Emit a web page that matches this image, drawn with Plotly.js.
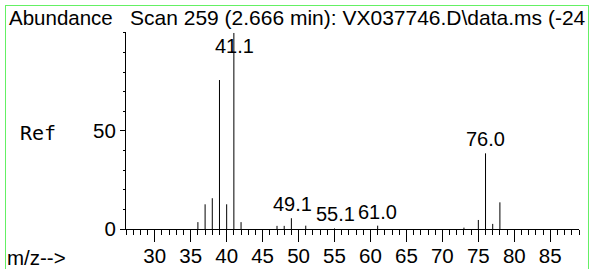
<!DOCTYPE html>
<html>
<head>
<meta charset="utf-8">
<script src="https://cdn.plot.ly/plotly-3.0.1.min.js"></script>
<style>
  html, body { margin: 0; padding: 0; background: #fff; }
  #wrap { position: relative; width: 592px; height: 269px; overflow: hidden; }
  #chart { position: absolute; left: 0; top: 0; width: 592px; height: 269px; }
  #frame { position: absolute; left: 5px; top: 5px; width: 582px; height: 280px;
           border: 1px solid rgb(100, 240, 100); pointer-events: none; }
  #clip { position: absolute; left: 588px; top: 0; width: 4px; height: 269px; background: #fff; }
</style>
</head>
<body>
<div id="wrap">
  <div id="chart"></div>
  <div id="clip"></div>
  <div id="frame"></div>
</div>
<script>
// Mass spectrum peaks (m/z) and relative abundance
const mz = [36, 37, 38, 39, 40, 41, 42, 47, 48, 49, 51, 55, 61, 73, 75, 76, 77, 78];
const abundance = [3.5, 12.6, 15.7, 76, 12.6, 100, 3.5, 1.6, 1.6, 5.5, 1.7, 0.3, 1.7, 0.7, 4.6, 38.6, 2.6, 13.6];

// Labelled peaks
const labelMz = [41.1, 49.1, 55.1, 61.0, 76.0];
const labelPeak = [41, 49, 55, 61, 76];
const labelText = ["41.1", "49.1", "55.1", "61.0", "76.0"];

const xTickVals = [30, 35, 40, 45, 50, 55, 60, 65, 70, 75, 80, 85];
const yTickVals = [0, 50];
const yTickText = ["0", "50"];

const titleText = "Scan 259 (2.666 min): VX037746.D\\data.ms (-24";
const yLabel = "Abundance";
const refText = "Ref";
const xLabel = "m/z-->";

const FONT = "Liberation Sans, Arial, sans-serif";

const px = [], py = [];
mz.forEach((m, i) => { px.push(m, m, null); py.push(0, abundance[i], null); });

const data = [{
  type: "scatter", mode: "lines", x: px, y: py,
  line: { color: "#000", width: 1 }, hoverinfo: "skip", showlegend: false
}];

const annotations = labelMz.map((lm, i) => {
  const h = abundance[mz.indexOf(labelPeak[i])];
  const top = h > 90;
  return {
    x: lm, y: top ? 100 : h, xref: "x", yref: "y",
    text: labelText[i], showarrow: false,
    xanchor: "center", yanchor: top ? "top" : "bottom",
    yshift: top ? 0 : 1,
    font: { family: FONT, size: 20, color: "#000" }
  };
});

annotations.push(
  { text: yLabel, xref: "paper", yref: "paper", x: -0.2627, y: 1.076, xanchor: "left", yanchor: "middle",
    showarrow: false, font: { family: FONT, size: 20.5, color: "#000" } },
  { text: titleText, xref: "paper", yref: "paper", x: 0.005, y: 1.076, xanchor: "left", yanchor: "middle",
    showarrow: false, font: { family: FONT, size: 21, color: "#000" } },
  { text: refText, xref: "paper", yref: "paper", x: -0.2392, y: 0.487, xanchor: "left", yanchor: "middle",
    showarrow: false, font: { family: "DejaVu Sans Mono, monospace", size: 20, color: "#000" } },
  { text: xLabel, xref: "paper", yref: "paper", x: -0.267, y: -0.147, xanchor: "left", yanchor: "middle",
    showarrow: false, font: { family: FONT, size: 20.5, color: "#000" } }
);

const layout = {
  width: 592, height: 269,
  margin: { l: 126, r: 13, t: 32, b: 40, pad: 0 },
  paper_bgcolor: "#fff", plot_bgcolor: "#fff",
  showlegend: false,
  font: { family: FONT, size: 20, color: "#000" },
  xaxis: {
    range: [26, 89], showgrid: false, zeroline: false,
    showline: true, linecolor: "#000", linewidth: 1,
    ticks: "outside", tickmode: "array", tickvals: xTickVals,
    ticklen: 12, tickwidth: 1, tickcolor: "#000",
    ticklabelstandoff: -4,
    tickfont: { family: FONT, size: 20.5, color: "#000" },
    minor: { ticks: "outside", tickmode: "linear", tick0: 0, dtick: 1, ticklen: 5, tickwidth: 1, tickcolor: "#000", showgrid: false },
    fixedrange: true
  },
  yaxis: {
    range: [0, 100.5], showgrid: false, zeroline: false,
    showline: true, linecolor: "#000", linewidth: 1,
    ticks: "outside", tickmode: "array", tickvals: yTickVals, ticktext: yTickText,
    ticklen: 5, tickwidth: 1, tickcolor: "#000",
    tickfont: { family: FONT, size: 20.5, color: "#000" },
    minor: { ticks: "outside", tickmode: "array", tickvals: [10, 20, 30, 40, 60, 70, 80, 90, 100], ticklen: 2, tickwidth: 1, tickcolor: "#000", showgrid: false },
    fixedrange: true
  },
  annotations: annotations
};

Plotly.newPlot("chart", data, layout, { staticPlot: true, displayModeBar: false });
</script>
</body>
</html>
